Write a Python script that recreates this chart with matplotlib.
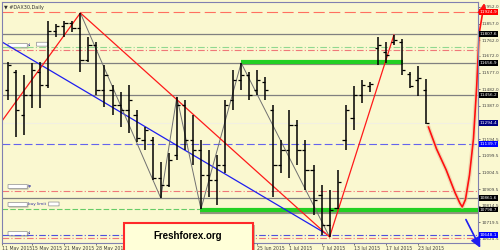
import numpy as np
import matplotlib.pyplot as plt
import matplotlib.patheffects as pe
from matplotlib.patches import Rectangle, FancyBboxPatch

# daily bars (#DAX30), one per trading day
highs = [11637, 11592, 11563, 11632, 11637, 11872, 11855, 11872, 11872, 11918,
         11780, 11752, 11620, 11506, 11466, 11506, 11363, 11265, 11208, 11065,
         11117, 11437, 11420, 11334, 11191, 11134, 11105, 11420, 11592, 11632,
         11580, 11592, 11551, 11391, 11191, 11363, 11305, 11191, 11048, 10934,
         10905, 11019, 11391, 11500, 11534, 11523, 11780, 11752, 11792, 11769,
         11580, 11614, 11540]
lows = [11420, 11208, 11220, 11374, 11374, 11489, 11780, 11780, 11809, 11580,
        11637, 11448, 11380, 11334, 11265, 11231, 11180, 11134, 10962, 10859,
        10922, 11077, 11134, 11048, 10796, 10865, 10819, 11002, 11363, 11477,
        11420, 11448, 11420, 10865, 11002, 10974, 11048, 10905, 10762, 10648,
        10636, 10796, 11134, 11248, 11403, 11466, 11620, 11632, 11735, 11563,
        11489, 11443, 11283]
opens = [11477, 11580, 11334, 11448, 11580, 11506, 11815, 11843, 11860, 11832,
         11649, 11735, 11477, 11477, 11391, 11363, 11334, 11191, 11191, 10974,
         10934, 11105, 11391, 11191, 11134, 10991, 10962, 11048, 11420, 11534,
         11563, 11477, 11523, 11363, 11048, 11134, 11277, 11134, 11019, 10876,
         10705, 10802, 11191, 11317, 11448, 11500, 11717, 11694, 11752, 11752,
         11569, 11534, 11477]
closes = [11620, 11363, 11448, 11592, 11506, 11815, 11843, 11860, 11832, 11649,
          11735, 11477, 11563, 11391, 11363, 11420, 11202, 11248, 10974, 10934,
          11077, 11391, 11191, 11134, 10991, 10962, 11048, 11391, 11534, 11563,
          11448, 11534, 11477, 11048, 11134, 11277, 11134, 11019, 10848, 10705,
          10790, 10951, 11363, 11448, 11506, 11511, 11735, 11677, 11763, 11592,
          11500, 11546, 11288]

date_labels = ['11 May 2015', '15 May 2015', '21 May 2015', '28 May 2015', '3 Jun 2015',
               '9 Jun 2015', '15 Jun 2015', '19 Jun 2015', '25 Jun 2015', '1 Jul 2015',
               '7 Jul 2015', '13 Jul 2015', '17 Jul 2015', '23 Jul 2015']
price_ticks = [11952.0, 11857.0, 11762.0, 11672.0, 11577.0, 11482.0, 11387.0,
               11194.5, 11099.5, 11004.5, 10909.5, 10814.5, 10719.5, 10624.5]

# horizontal levels drawn on the chart
gray_levels = [11797, 11632, 11449, 10859]
redtop_level = 11923
green_dd_level = 11723
red_dd_levels = [11706, 10899, 10630]
faint_level = 11288
blue_dash_level = 11168
green_dash_level = 10796
blue_dd_level = 10648

# price tags on the right scale
tag_levels = [11923, 11797, 11632, 11449, 11288, 11168, 10859, 10792, 10648]
tag_texts = ['11924.9', '11807.6', '11656.9', '11456.2', '11294.4', '11139.7',
             '10861.6', '10798.7', '10648.1']
tag_colors = ['#FF0000', '#000000', '#000000', '#000000', '#000080', '#0000FF',
              '#000000', '#000000', '#0000FF']

# trend lines (bar index, price)
zz_x = [9, 19, 21, 24, 29, 40]
zz_y = [11918, 10859, 11437, 10796, 11632, 10636]
red_x = [-0.75, 9, 40, 48]
red_y = [11300, 11918, 10636, 11792]
blue_x = [-0.75, 39.4]
blue_y = [11752, 10659]
# hand drawn forecast
fc_x = [52.3, 53.3, 54.5, 55.6, 56.2, 56.5, 56.9, 57.4, 57.9, 58.3, 58.6]
fc_y = [11265, 11140, 11020, 10890, 10830, 10808, 10850, 10990, 11200, 11500, 11800]

BG = '#FAF8D0'
fig = plt.figure(figsize=(5, 2.5), dpi=100)
fig.patch.set_facecolor(BG)
ax = fig.add_axes([0.004, 0.028, 0.952, 0.964])
ax.set_facecolor(BG)
ax.set_xlim(-0.75, 58.46)
ax.set_ylim(10601.6, 11980.6)

# levels
ax.axhline(redtop_level, color='#FF7060', lw=0.8, dashes=(10, 4))
for lv in gray_levels:
    ax.axhline(lv, color='#808080', lw=0.9)
ax.axhline(green_dd_level, color='#90D890', lw=0.8, dashes=(6, 2, 1, 2))
for lv in red_dd_levels:
    ax.axhline(lv, color='#F07878', lw=0.8, dashes=(6, 2, 1, 2))
ax.axhline(faint_level, color='#F2F0E2', lw=0.8)
ax.axhline(blue_dash_level, color='#6464EE', lw=0.8, dashes=(7, 3))
ax.axhline(green_dash_level, color='#66CC66', lw=0.8, dashes=(5, 2))
ax.axhline(blue_dd_level, color='#5050DD', lw=0.8, dashes=(6, 2, 1, 2))

# thick green support / resistance
shadow = [pe.SimpleLineShadow(offset=(0, -1.2), shadow_color='#303030', alpha=0.5), pe.Normal()]
ax.plot([29, 49.1], [11640, 11640], color='#22D022', lw=3.0, solid_capstyle='butt', path_effects=shadow)
ax.plot([23.9, 58.46], [10790, 10790], color='#22D022', lw=3.0, solid_capstyle='butt', path_effects=shadow)

# trend lines
ax.plot(blue_x, blue_y, color='#1E1EF0', lw=0.9)
ax.plot(zz_x, zz_y, color='#707070', lw=0.7)
ax.plot(red_x, red_y, color='#FF1A1A', lw=0.9)

# OHLC bars
xs = np.arange(len(highs))
ax.vlines(xs, lows, highs, color='black', lw=1.1)
ax.hlines(opens, xs - 0.4, xs, color='black', lw=0.9)
ax.hlines(closes, xs, xs + 0.4, color='black', lw=0.9)

# forecast arrows
glow = [pe.Stroke(linewidth=3, foreground='#E8C8A0', alpha=0.6), pe.Normal()]
ax.plot(fc_x, fc_y, color='#FF1010', lw=1.2, clip_on=False, path_effects=glow)
ax.annotate('', xy=(59.3, 11990), xytext=(58.6, 11800), annotation_clip=False,
            arrowprops=dict(arrowstyle='-|>,head_length=0.6,head_width=0.3', color='#FF1010', lw=1.2))
ax.annotate('', xy=(58.9, 10560), xytext=(56.8, 10750), annotation_clip=False,
            arrowprops=dict(arrowstyle='-|>,head_length=0.6,head_width=0.3', color='#1E1EF0', lw=1.2))

# axes styling
for s in ax.spines.values():
    s.set_color('#8080B0')
    s.set_linewidth(0.8)
ax.yaxis.tick_right()
ax.set_yticks(price_ticks)
ax.set_yticklabels([f'{v:.1f}' for v in price_ticks])
ax.tick_params(axis='y', length=1.5, width=0.5, pad=1, labelsize=3.1, colors='#404040')
tick_pos = np.arange(len(date_labels)) * 4 - 1.0
tick_pos[0] = -0.7
ax.set_xticks(tick_pos)
ax.set_xticklabels(date_labels, ha='left')
ax.tick_params(axis='x', length=1.5, width=0.5, pad=0.8, labelsize=3.3, colors='#404040')

ax.text(0.004, 0.988, '\u25bc #DAX30,Daily', transform=ax.transAxes, fontsize=3.5,
        color='#303030', va='top', ha='left')

# price tags
for lv, t, c in zip(tag_levels, tag_texts, tag_colors):
    ax.text(1.004, lv, t, transform=ax.get_yaxis_transform(), fontsize=3.1, color='white',
            va='center', ha='left', clip_on=False,
            bbox=dict(boxstyle='square,pad=0.15', fc=c, ec='none'))

# trade labels on the left (obscured price boxes)
trade_levels = [11706, 10899, 10796, 10630]
trade_texts = ['sl', 'tp', 'buy limit', 'sl']
for lv, t in zip(trade_levels, trade_texts):
    ax.add_patch(FancyBboxPatch((0.05, lv + 15), 2.3, 22, boxstyle='round,pad=0.05',
                                fc='white', ec='#A0A0A0', lw=0.6,
                                path_effects=[pe.withSimplePatchShadow(offset=(0.8, -0.8), alpha=0.4)]))
    ax.text(2.5, lv + 26, t, fontsize=3.0, color='#3030A0', va='center', ha='left')
ax.add_patch(FancyBboxPatch((3.6, 11728), 1.3, 22, boxstyle='round,pad=0.05', fc='white',
                            ec='#A0A0A0', lw=0.6))
ax.add_patch(FancyBboxPatch((5.1, 10814), 1.2, 22, boxstyle='round,pad=0.05', fc='white',
                            ec='#A0A0A0', lw=0.6))

# watermark box
box = Rectangle((0.247, -0.02), 0.258, 0.128, transform=fig.transFigure, fc='#FFFFD8',
                ec='#FF2A2A', lw=1.5, zorder=10,
                path_effects=[pe.withSimplePatchShadow(offset=(1.5, -1.5), alpha=0.35)])
fig.patches.append(box)
fig.text(0.376, 0.055, 'Freshforex.org', fontsize=7, fontweight='bold', family='Liberation Sans',
         ha='center', va='center', zorder=11)

fig.savefig('out.png', dpi=100, facecolor=BG)
